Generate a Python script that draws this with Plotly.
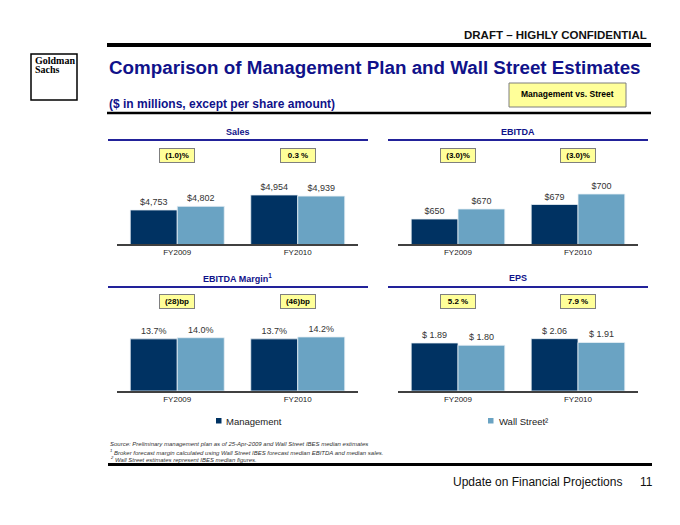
import plotly.graph_objects as go

# ---------------- data ----------------
categories = ["FY2009", "FY2010"]
series_names = ["Management", "Wall Street²"]

sales_mgmt = [4753, 4954]
sales_street = [4802, 4939]
ebitda_mgmt = [650, 679]
ebitda_street = [670, 700]
margin_mgmt = [13.7, 13.7]
margin_street = [14.0, 14.2]
eps_mgmt = [1.89, 2.06]
eps_street = [1.80, 1.91]

sales_diff = ["(1.0)%", "0.3 %"]
ebitda_diff = ["(3.0)%", "(3.0)%"]
margin_diff = ["(28)bp", "(46)bp"]
eps_diff = ["5.2 %", "7.9 %"]

panel_titles = ["Sales", "EBITDA", "EBITDA Margin<sup>1</sup>", "EPS"]

# ---------------- style ----------------
W, H = 680, 525
NAVY = "#003262"
LIGHT = "#6aa3c3"
TITLE_BLUE = "#10128a"
FONT = "Liberation Sans, Arial, sans-serif"


def X(px):
    return px / W


def Y(py):
    return 1 - py / H


fig = go.Figure()

panels = [
    # (mgmt, street, diff, fmt, axis suffix, y-range)
    (sales_mgmt, sales_street, sales_diff, "$%{y:,.0f}", "", [4297, 5557]),
    (ebitda_mgmt, ebitda_street, ebitda_diff, "$%{y:.0f}", "2", [600, 788]),
    (margin_mgmt, margin_street, margin_diff, "%{y:.1f}%", "3", [0, 24.7]),
    (eps_mgmt, eps_street, eps_diff, "$ %{y:.2f}", "4", [0, 3.70]),
]

# pixel geometry of panels: (x0, x1, baseline, top)
geom = [
    (117, 358, 244, 150),
    (398, 638, 244, 150),
    (117, 358, 391, 297),
    (398, 638, 391, 297),
]
title_geom = [
    (108, 368, 132, 140),
    (388, 648, 132, 140),
    (108, 368, 278, 287),
    (388, 648, 278, 287),
]
box_y = [155.5, 155.5, 301, 301]

for i, (m, s, diff, fmt, sfx, yr) in enumerate(panels):
    xa = "x" + sfx
    ya = "y" + sfx
    for vals, name, col in ((m, series_names[0], NAVY), (s, series_names[1], LIGHT)):
        fig.add_trace(go.Bar(
            x=categories, y=vals, name=name, xaxis=xa, yaxis=ya,
            marker=dict(color=col, line=dict(color="#e8f0f5", width=0.8)),
            texttemplate=fmt, textposition="outside",
            textfont=dict(size=9, color="#333333", family=FONT),
            cliponaxis=False, showlegend=False, hoverinfo="skip",
        ))
    x0, x1, base, top = geom[i]
    fig.layout["xaxis" + sfx] = dict(
        domain=[X(x0), X(x1)], anchor=ya, showline=True, linecolor="#404040",
        linewidth=1.5, ticks="", showgrid=False, zeroline=False,
        tickfont=dict(size=8, color="#222222", family=FONT), fixedrange=True,
    )
    fig.layout["yaxis" + sfx] = dict(
        domain=[Y(base), Y(top)], anchor=xa, range=yr, visible=False,
        showgrid=False, zeroline=False, fixedrange=True,
    )
    # panel title and underline
    tx0, tx1, ty, ly = title_geom[i]
    fig.add_annotation(
        x=X((tx0 + tx1) / 2), y=Y(ty), xref="paper", yref="paper",
        text="<b>" + panel_titles[i] + "</b>", showarrow=False,
        font=dict(size=9, color=TITLE_BLUE, family=FONT),
        xanchor="center", yanchor="middle",
    )
    fig.add_shape(type="line", xref="paper", yref="paper",
                  x0=X(tx0), x1=X(tx1), y0=Y(ly), y1=Y(ly),
                  line=dict(color="#22229a", width=2))
    # yellow difference boxes
    for c, d in zip(categories, diff):
        fig.add_annotation(
            x=c, xref=xa, y=Y(box_y[i]), yref="paper", text="<b>" + d + "</b>",
            showarrow=False, bgcolor="#ffff99", bordercolor="#7f7f7f",
            borderwidth=1, borderpad=2, width=30, height=9,
            font=dict(size=8, color="#000000", family=FONT),
            xanchor="center", yanchor="middle",
        )

# ---------------- page furniture ----------------
shapes = [
    dict(x0=107, x1=651, y=45, w=4, c="#000000"),
    dict(x0=107, x1=651, y=113, w=2.5, c="#000000"),
    dict(x0=108, x1=652, y=464.5, w=3, c="#000000"),
]
for s in shapes:
    fig.add_shape(type="line", xref="paper", yref="paper",
                  x0=X(s["x0"]), x1=X(s["x1"]), y0=Y(s["y"]), y1=Y(s["y"]),
                  line=dict(color=s["c"], width=s["w"]))

# logo box
fig.add_shape(type="rect", xref="paper", yref="paper",
              x0=X(31), x1=X(77), y0=Y(54), y1=Y(100),
              line=dict(color="#000000", width=1.5), fillcolor="white")
fig.add_annotation(x=X(33), y=Y(60.5), xref="paper", yref="paper", text="<b>Goldman</b>",
                   showarrow=False, xanchor="left", yanchor="middle",
                   font=dict(size=10, color="#000", family="Liberation Serif, serif"))
fig.add_annotation(x=X(33), y=Y(69.5), xref="paper", yref="paper", text="<b>Sachs</b>",
                   showarrow=False, xanchor="left", yanchor="middle",
                   font=dict(size=10, color="#000", family="Liberation Serif, serif"))

# Management vs. Street box
fig.add_shape(type="rect", xref="paper", yref="paper",
              x0=X(509), x1=X(626), y0=Y(83), y1=Y(107),
              line=dict(color="#7f7f7f", width=1), fillcolor="#ffff99")

texts = [
    (649, 35, "<b>DRAFT – HIGHLY CONFIDENTIAL</b>", 11.5, "#111111", "right"),
    (107, 68, "<b>Comparison of Management Plan and Wall Street Estimates</b>", 18.8, TITLE_BLUE, "left"),
    (107, 104, "<b>($ in millions, except per share amount)</b>", 12, TITLE_BLUE, "left"),
    (567, 94, "<b>Management vs. Street</b>", 8.5, "#000000", "center"),
    (224, 421, "Management", 9.5, "#222222", "left"),
    (497, 421, "Wall Street²", 9.5, "#222222", "left"),
    (108, 444, "<i>Source: Preliminary management plan as of 25-Apr-2009 and Wall Street IBES median estimates</i>", 6, "#333333", "left"),
    (108, 452, "<i><sup>1</sup> Broker forecast margin calculated using Wall Street IBES forecast median EBITDA and median sales.</i>", 6, "#333333", "left"),
    (108, 459, "<i><sup>2</sup> Wall Street estimates represent IBES median figures.</i>", 6, "#333333", "left"),
    (624, 482, "Update on Financial Projections", 12, "#111111", "right"),
    (655, 482, "11", 12, "#111111", "right"),
]
for x, y, t, sz, col, anc in texts:
    fig.add_annotation(x=X(x), y=Y(y), xref="paper", yref="paper", text=t,
                       showarrow=False, xanchor=anc, yanchor="middle",
                       font=dict(size=sz, color=col, family=FONT))

# legend squares
for px0, col in ((216, NAVY), (488, LIGHT)):
    fig.add_shape(type="rect", xref="paper", yref="paper",
                  x0=X(px0), x1=X(px0 + 5.5), y0=Y(418), y1=Y(423.5),
                  line=dict(width=0), fillcolor=col)

fig.update_layout(
    width=W, height=H, margin=dict(l=0, r=0, t=0, b=0),
    paper_bgcolor="white", plot_bgcolor="white",
    barmode="group", bargap=0.22, bargroupgap=0.0,
    font=dict(family=FONT), showlegend=False, hovermode=False,
)

fig.write_html("out.html", config={"displayModeBar": False},
               post_script="document.body.style.margin='0';")
